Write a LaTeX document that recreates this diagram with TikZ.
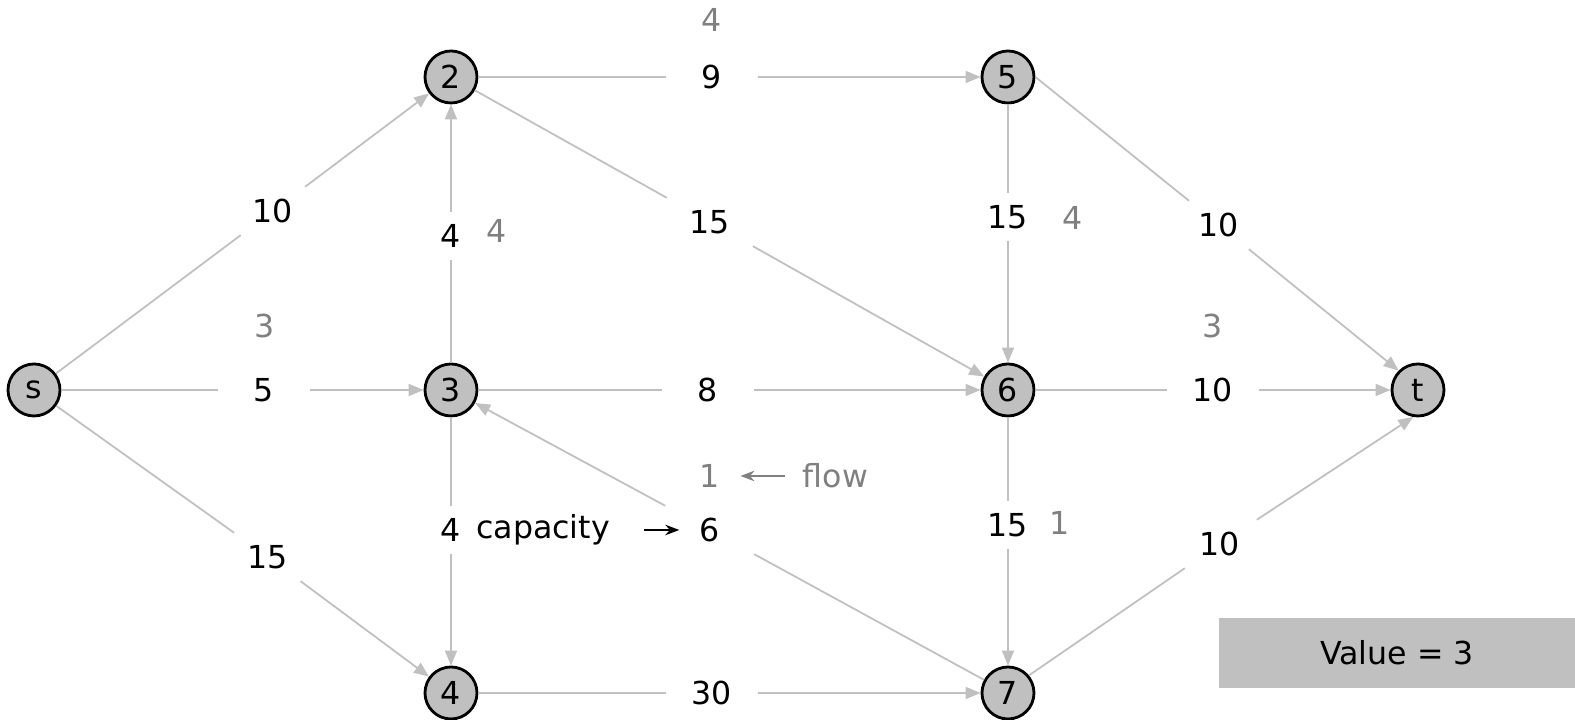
\documentclass[tikz,border=0pt]{standalone}
\usepackage{fontspec}
\setmainfont{DejaVu Sans}
\usepackage{tikz}
\usetikzlibrary{arrows.meta}
\usetikzlibrary{positioning}

\definecolor{edgegray}{HTML}{C0C0C0}
\definecolor{flowgray}{HTML}{808080}

\begin{document}
\begin{tikzpicture}[
  font=\fontsize{9}{11}\selectfont,
  vertex/.style={circle,draw=black,line width=0.8pt,fill=edgegray,minimum size=0.52cm,inner sep=0pt},
  capbox/.style={minimum width=0.9cm,minimum height=0.47cm,inner sep=0pt},
  flw/.style={text=flowgray},
  edge/.style={draw=edgegray,line width=0.5pt,-{Triangle[length=1.5mm,width=1.2mm]}}
]
\useasboundingbox (0,0) rectangle (15.75,7.2);

% vertices
\node[vertex] (s) at (0.34,3.30) {s};
\node[vertex] (2) at (4.51,6.43) {2};
\node[vertex] (3) at (4.51,3.30) {3};
\node[vertex] (4) at (4.51,0.27) {4};
\node[vertex] (5) at (10.08,6.43) {5};
\node[vertex] (6) at (10.08,3.30) {6};
\node[vertex] (7) at (10.08,0.27) {7};
\node[vertex] (t) at (14.18,3.30) {t};

% capacities
\node[capbox] (cs2) at (2.73,5.09) {10};
\node[capbox] (cs3) at (2.64,3.30) {5};
\node[capbox] (cs4) at (2.68,1.63) {15};
\node[capbox] (c32) at (4.51,4.84) {4};
\node[capbox] (c25) at (7.12,6.43) {9};
\node[capbox] (c26) at (7.10,4.98) {15};
\node[capbox] (c36) at (7.08,3.30) {8};
\node[capbox] (c73) at (7.10,1.90) {6};
\node[capbox] (c34) at (4.51,1.90) {4};
\node[capbox] (c47) at (7.12,0.27) {30};
\node[capbox] (c56) at (10.08,5.03) {15};
\node[capbox] (c5t) at (12.19,4.95) {10};
\node[capbox] (c6t) at (12.13,3.30) {10};
\node[capbox] (c67) at (10.08,1.95) {15};
\node[capbox] (c7t) at (12.20,1.76) {10};

% flows
\node[flw] (fs3) at (2.65,3.94) {3};
\node[flw] (f32) at (4.97,4.89) {4};
\node[flw] (f25) at (7.12,7.00) {4};
\node[flw] (f73) at (7.10,2.44) {1};
\node[flw] (f56) at (10.73,5.02) {4};
\node[flw] (f6t) at (12.13,3.94) {3};
\node[flw] (f67) at (10.60,1.97) {1};

% edges
\foreach \a/\c/\b in {s/cs2/2, s/cs3/3, s/cs4/4, 3/c32/2, 2/c25/5, 2/c26/6,
  3/c36/6, 7/c73/3, 3/c34/4, 4/c47/7, 5/c56/6, 6/c6t/t, 6/c67/7}
  \draw[edge] (\a) -- (\c) -- (\b);
\draw[edge] (5.east) -- (c5t) -- (t.135);
\draw[edge] (7.40) -- (c7t) -- (t.260);

% legend
\node (capacity) at (5.43,1.90) {capacity};
\draw[-{Stealth[length=1.4mm]},line width=0.5pt,shorten <=0.22cm,shorten >=-0.15cm] (capacity) -- (c73);
\node[flw,right=0.58cm of f73] (flow) {flow};
\draw[-{Stealth[length=1.4mm]},line width=0.5pt,flowgray,shorten <=0.05cm,shorten >=0.08cm] (flow) -- (f73);

\node[fill=edgegray,minimum width=3.56cm,minimum height=0.70cm] (value) at (13.97,0.67) {Value = 3};
\end{tikzpicture}
\end{document}
